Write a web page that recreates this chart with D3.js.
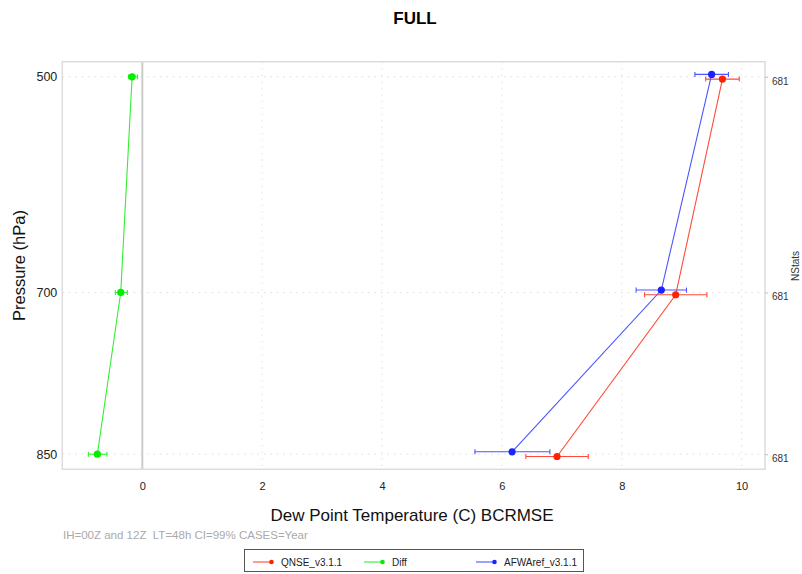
<!DOCTYPE html>
<html>
<head>
<meta charset="utf-8">
<script src="https://cdn.jsdelivr.net/npm/d3@7"></script>
<style>
  html, body { margin: 0; padding: 0; background: #fff; }
  svg { display: block; font-family: "Liberation Sans", Arial, Helvetica, sans-serif; }
</style>
</head>
<body>
<svg id="chart" width="802" height="574"></svg>
<script>
// Pressure levels (hPa)
const levels = [500, 700, 850];
const nStats = [681, 681, 681];

// Series values: BCRMSE with 99% confidence limits
const seriesNames = ["QNSE_v3.1.1", "Diff", "AFWAref_v3.1.1"];
const qnseValues = [9.68, 8.90, 6.92];
const qnseLower  = [9.40, 8.38, 6.40];
const qnseUpper  = [9.96, 9.42, 7.44];
const diffValues = [-0.17, -0.36, -0.75];
const diffLower  = [-0.23, -0.45, -0.90];
const diffUpper  = [-0.08, -0.25, -0.59];
const afwaValues = [9.50, 8.66, 6.17];
const afwaLower  = [9.22, 8.24, 5.55];
const afwaUpper  = [9.78, 9.08, 6.80];

const xTicks = [0, 2, 4, 6, 8, 10];

const titleText = "FULL";
const xLabel = "Dew Point Temperature (C) BCRMSE";
const yLabel = "Pressure (hPa)";
const rightLabel = "NStats";
const caption = "IH=00Z and 12Z  LT=48h CI=99% CASES=Year";

// Layout and styling
const plot = { left: 62.3, right: 765, top: 61.7, bottom: 469.3 };
const colors = { line: ["#ff4a3a", "#33ee33", "#4a55ff"], dot: ["#ff2200", "#00ee00", "#1a22ff"] };
const dodge = [2.3, 0, -2.4]; // small vertical offset per series, px

const series = [
  { name: seriesNames[0], v: qnseValues, lo: qnseLower, hi: qnseUpper },
  { name: seriesNames[1], v: diffValues, lo: diffLower, hi: diffUpper },
  { name: seriesNames[2], v: afwaValues, lo: afwaLower, hi: afwaUpper }
];

const svg = d3.select("#chart");

const x = d3.scaleLinear().domain([-1.335, 10.39]).range([plot.left, plot.right]);
const y = d3.scaleLinear().domain([486, 864]).range([plot.top, plot.bottom]);

// Grid
const grid = svg.append("g");
grid.selectAll("line.vg").data(xTicks.filter(d => d !== 0)).join("line")
  .attr("x1", d => x(d)).attr("x2", d => x(d))
  .attr("y1", plot.top).attr("y2", plot.bottom)
  .attr("stroke", "#e2e2e2").attr("stroke-width", 1).attr("stroke-dasharray", "1.5,5");
grid.selectAll("line.hg").data(levels).join("line")
  .attr("x1", plot.left).attr("x2", plot.right)
  .attr("y1", d => y(d)).attr("y2", d => y(d))
  .attr("stroke", "#dcdcdc").attr("stroke-width", 1).attr("stroke-dasharray", "1.5,5");

// Zero reference line
svg.append("line")
  .attr("x1", x(0)).attr("x2", x(0)).attr("y1", plot.top).attr("y2", plot.bottom)
  .attr("stroke", "#cccccc").attr("stroke-width", 2);

// Frame
svg.append("rect")
  .attr("x", plot.left).attr("y", plot.top)
  .attr("width", plot.right - plot.left).attr("height", plot.bottom - plot.top)
  .attr("fill", "none").attr("stroke", "#dcdcdc").attr("stroke-width", 1.5);

// Axes
const xAxis = svg.append("g").attr("transform", `translate(0,${plot.bottom})`)
  .call(d3.axisBottom(x).tickValues(xTicks).tickSize(0).tickPadding(13).tickFormat(d3.format("d")));
xAxis.select(".domain").remove();
xAxis.selectAll("text").attr("font-size", 11).attr("fill", "#222");

const yAxis = svg.append("g").attr("transform", `translate(${plot.left},0)`)
  .call(d3.axisLeft(y).tickValues(levels).tickSize(0).tickPadding(5));
yAxis.select(".domain").remove();
yAxis.selectAll("text").attr("font-size", 12.5).attr("fill", "#222");

const rAxis = svg.append("g").attr("transform", `translate(${plot.right},0)`)
  .call(d3.axisRight(y).tickValues(levels).tickSize(3).tickPadding(4)
    .tickFormat((d, i) => nStats[i]));
rAxis.select(".domain").remove();
rAxis.selectAll("line").attr("stroke", "#bbbbbb");
rAxis.selectAll("text").attr("font-size", 10).attr("fill", "#333").attr("dy", "0.75em");

// Series: connecting lines, CI bars, points
const line = d3.line();
series.forEach((s, k) => {
  const g = svg.append("g");
  const pts = levels.map((p, i) => [x(s.v[i]), y(p) + dodge[k]]);
  g.append("path").attr("d", line(pts))
    .attr("fill", "none").attr("stroke", colors.line[k]).attr("stroke-width", 1.1);
  levels.forEach((p, i) => {
    const yy = y(p) + dodge[k];
    g.append("line").attr("x1", x(s.lo[i])).attr("x2", x(s.hi[i]))
      .attr("y1", yy).attr("y2", yy).attr("stroke", colors.line[k]).attr("stroke-width", 1.1);
    [s.lo[i], s.hi[i]].forEach(v => {
      g.append("line").attr("x1", x(v)).attr("x2", x(v))
        .attr("y1", yy - 2.5).attr("y2", yy + 2.5)
        .attr("stroke", colors.line[k]).attr("stroke-width", 1.1);
    });
    g.append("circle").attr("cx", x(s.v[i])).attr("cy", yy).attr("r", 3.6)
      .attr("fill", colors.dot[k]);
  });
});

// Titles
svg.append("text").attr("x", 415).attr("y", 24).attr("text-anchor", "middle")
  .attr("font-size", 17).attr("font-weight", "bold").attr("fill", "#000").text(titleText);
svg.append("text").attr("x", 412).attr("y", 521).attr("text-anchor", "middle")
  .attr("font-size", 17).attr("fill", "#111").text(xLabel);
svg.append("text").attr("transform", `translate(25,${(plot.top + plot.bottom) / 2}) rotate(-90)`)
  .attr("text-anchor", "middle").attr("font-size", 16.5).attr("fill", "#111").text(yLabel);
svg.append("text").attr("transform", `translate(799,266) rotate(-90)`)
  .attr("text-anchor", "middle").attr("font-size", 10).attr("fill", "#333").text(rightLabel);
svg.append("text").attr("x", 63).attr("y", 539).style("white-space", "pre")
  .attr("font-size", 11.5).attr("fill", "#aaaaaa").text(caption);

// Legend
const legend = svg.append("g");
legend.append("rect").attr("x", 244.5).attr("y", 549.5).attr("width", 339).attr("height", 22)
  .attr("fill", "#fff").attr("stroke", "#555").attr("stroke-width", 1);
const legendX = [253, 364, 476];
series.forEach((s, k) => {
  const lx = legendX[k], ly = 562;
  legend.append("line").attr("x1", lx).attr("x2", lx + 19).attr("y1", ly).attr("y2", ly)
    .attr("stroke", colors.line[k]).attr("stroke-width", 1.1);
  legend.append("circle").attr("cx", lx + 18.5).attr("cy", ly).attr("r", 2.3).attr("fill", colors.dot[k]);
  legend.append("text").attr("x", lx + 28).attr("y", ly + 3.5)
    .attr("font-size", 10).attr("fill", "#222").text(s.name);
});
</script>
</body>
</html>
